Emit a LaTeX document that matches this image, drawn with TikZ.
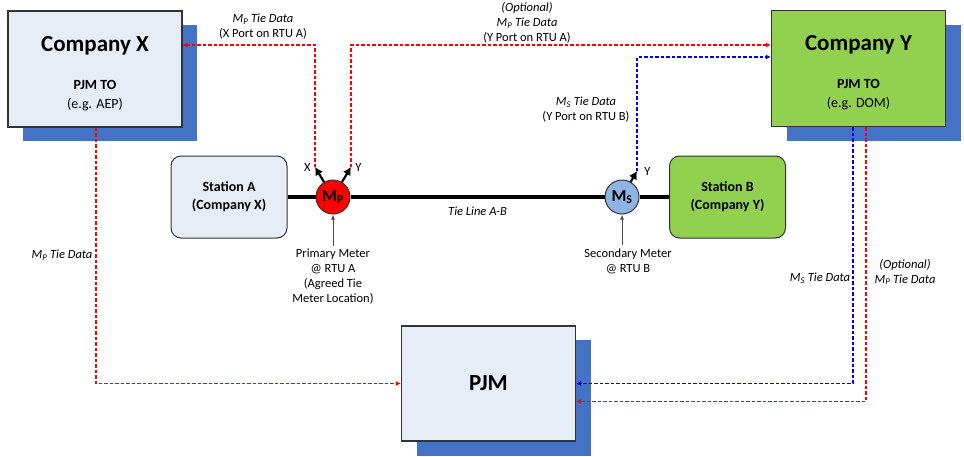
\documentclass[tikz,border=0pt]{standalone}
\usepackage{fontspec}
\setmainfont{Carlito}
\usetikzlibrary{arrows.meta,positioning,shadows}
\definecolor{shadowblue}{HTML}{4472C4}
\definecolor{paleblue}{HTML}{E7EDF7}
\definecolor{leafgreen}{HTML}{92D050}
\definecolor{meterblue}{HTML}{8EB4E3}
\newcommand{\Mtie}[1]{\textit{M\textsubscript{#1} Tie Data}}
\newcommand{\boxtitle}[1]{{\fontsize{23}{28}\selectfont\bfseries\rule{0pt}{24pt}#1}}

\begin{document}
\begin{tikzpicture}[
    x=1pt, y=-1pt,
    company/.style={rectangle, draw=black!80, line width=1.2pt, minimum width=174pt, minimum height=116pt, align=center,
        font=\fontsize{14}{19}\selectfont,
        drop shadow={shadow xshift=15pt, shadow yshift=-14pt, fill=shadowblue, opacity=1}},
    station/.style={rectangle, rounded corners=10pt, draw=black!80, line width=1pt, minimum width=116pt, minimum height=82pt, align=center,
        font=\fontsize{14}{18}\selectfont\bfseries},
    meter/.style={circle, draw=black!80, line width=1pt, minimum size=34pt, inner sep=0pt, font=\fontsize{17}{20}\selectfont\bfseries},
    tieline/.style={line width=4pt},
    port/.style={-{Latex[length=8pt,width=9pt]}, line width=2.2pt},
    feed/.style={-{Latex[length=5pt,width=4pt]}, black!70, line width=0.8pt},
    datared/.style={-{Latex[length=5pt,width=5pt]}, draw=red, line width=1.2pt, dash pattern=on 3.5pt off 2pt},
    datablue/.style={-{Latex[length=5pt,width=5pt]}, draw=blue, line width=1.2pt, dash pattern=on 3.5pt off 2pt},
    lbl/.style={align=center, font=\fontsize{12.5}{15}\selectfont}
]
    \useasboundingbox (0,0) rectangle (964,456);

    \node[company, fill=paleblue] (cx) at (95,69) {\boxtitle{Company X}\\[19pt]\textbf{PJM TO}\\(e.g. AEP)};
    \node[company, fill=leafgreen] (cy) at (858.5,68.5) {\boxtitle{Company Y}\\[19pt]\textbf{PJM TO}\\(e.g. DOM)};
    \node[company, fill=paleblue, minimum height=115pt, drop shadow={shadow xshift=15pt, shadow yshift=-15pt, fill=shadowblue, opacity=1}] (pjm) at (488.5,383.5) {{\fontsize{23}{28}\selectfont\bfseries PJM}};

    \node[station, fill=paleblue] (sa) at (229,197) {Station A\\(Company X)};
    \node[station, fill=leafgreen] (sb) at (727.5,197) {Station B\\(Company Y)};
    \node[meter, fill=red] (mp) at (333,197) {M\textsubscript{P}};
    \node[meter, fill=meterblue] (ms) at (622,197) {M\textsubscript{S}};

    \draw[tieline] (sa) -- (mp);
    \draw[tieline] (mp) -- node[lbl, below=5pt] {\textit{Tie Line A-B}} (ms);
    \draw[tieline] (ms) -- (sb);

    \coordinate (xport) at (315,167);
    \coordinate (yport) at (351,167);
    \coordinate (msport) at (637,171);
    \draw[port] (mp) -- (xport) node[lbl, left] {X};
    \draw[port] (mp) -- (yport) node[lbl, right] {Y};
    \draw[port] (ms) -- (msport) node[lbl, right=3pt] {Y};

    \node[lbl] (pmnote) at (333,277) {Primary Meter\\@ RTU A\\(Agreed Tie\\Meter Location)};
    \node[lbl] (smnote) at (628,261) {Secondary Meter\\@ RTU B};
    \draw[feed] (pmnote) -- (mp);
    \draw[feed] (smnote.north -| ms) -- (ms);

    \draw[datared] (xport) |- ([yshift=24pt]cx.east);
    \draw[datared] (yport) |- ([yshift=23.5pt]cy.west);
    \draw[datablue] (msport) |- ([yshift=11.5pt]cy.west);
    \draw[datared] ([xshift=1pt]cx.south) |- (pjm.west);
    \draw[datablue] ([xshift=-5.5pt]cy.south) |- (pjm.east);
    \draw[datared] ([xshift=7.5pt]cy.south) |- ([yshift=-18pt]pjm.east);

    \node[lbl] (xnote) at (263,27) {\Mtie{P}\\(X Port on RTU A)};
    \node[lbl] (ynote) at (527,23) {\textit{(Optional)}\\\Mtie{P}\\(Y Port on RTU A)};
    \node[lbl] (msnote) at (586,110) {\Mtie{S}\\(Y Port on RTU B)};
    \node[lbl] (cxnote) at (62,255) {\Mtie{P}};
    \node[lbl] (cynote) at (820,278) {\Mtie{S}};
    \node[lbl] (optnote) at (905,272) {\textit{(Optional)}\\\Mtie{P}};
\end{tikzpicture}
\end{document}
